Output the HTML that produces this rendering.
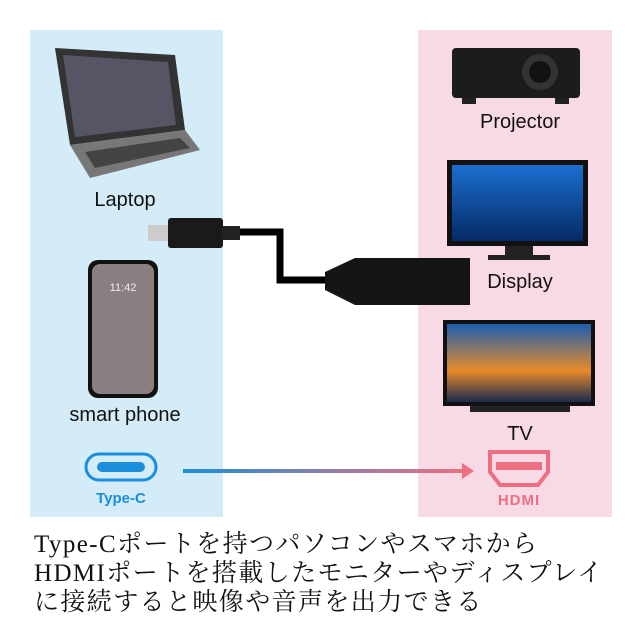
<!DOCTYPE html>
<html><head><meta charset="utf-8"><style>
body{margin:0;width:640px;height:640px;background:#fff;position:relative;overflow:hidden;font-family:"Liberation Sans",sans-serif}
.a{position:absolute}
.lbl{position:absolute;font-size:20px;color:#111;text-align:center}
.jp{position:absolute;left:34px;font-family:"Liberation Serif","Noto Serif CJK SC",serif;font-size:25px;line-height:30px;color:#111;white-space:nowrap;letter-spacing:1.4px}
</style></head><body>
<div class="a" style="left:30px;top:30px;width:193px;height:487px;background:#d4ebf8"></div>
<div class="a" style="left:418px;top:30px;width:194px;height:487px;background:#f8d9e6"></div>
<svg class="a" style="left:0;top:0" width="640" height="640">
<defs><linearGradient id="g" x1="0" x2="1"><stop offset="0" stop-color="#1b8fdc"/><stop offset="0.5" stop-color="#8a7fa8"/><stop offset="1" stop-color="#ec6f82"/></linearGradient>
<linearGradient id="scr" x1="0" y1="0" x2="0" y2="1"><stop offset="0" stop-color="#1a6fd0"/><stop offset="1" stop-color="#062a66"/></linearGradient>
<linearGradient id="tv" x1="0" y1="0" x2="0" y2="1"><stop offset="0" stop-color="#1b5fb0"/><stop offset="0.6" stop-color="#e88a2a"/><stop offset="1" stop-color="#1a2a50"/></linearGradient></defs>
<polygon points="55,48 175,55 185,130 70,145" fill="#333"/>
<polygon points="63,55 168,62 176,125 75,137" fill="#556"/>
<polygon points="70,145 185,130 200,150 90,178" fill="#777"/>
<polygon points="85,152 180,138 190,148 95,168" fill="#444"/>
<rect x="88" y="260" width="70" height="138" rx="10" fill="#111"/>
<rect x="92" y="264" width="62" height="130" rx="8" fill="#8a7f80"/>
<text x="123" y="291" font-size="11" fill="#eee" text-anchor="middle">11:42</text>
<rect x="148" y="225" width="22" height="16" fill="#ccc"/>
<rect x="168" y="218" width="55" height="30" rx="3" fill="#1a1a1a"/>
<rect x="222" y="226" width="18" height="14" fill="#222"/>
<polyline points="240,232 280,232 280,280 330,280" fill="none" stroke="#000" stroke-width="7"/>
<path d="M325,272 L355,258 L470,258 L470,305 L355,305 L325,290 Z" fill="#151515"/>
<rect x="452" y="48" width="128" height="50" rx="4" fill="#1c1c1c"/>
<circle cx="540" cy="72" r="18" fill="#333"/><circle cx="540" cy="72" r="11" fill="#111"/>
<rect x="462" y="98" width="14" height="6" fill="#222"/><rect x="555" y="98" width="14" height="6" fill="#222"/>
<rect x="447" y="160" width="141" height="86" fill="#111"/>
<rect x="452" y="165" width="131" height="76" fill="url(#scr)"/>
<rect x="505" y="246" width="28" height="10" fill="#222"/><rect x="488" y="255" width="62" height="5" fill="#222"/>
<rect x="443" y="320" width="152" height="86" fill="#111"/>
<rect x="447" y="324" width="144" height="78" fill="url(#tv)"/>
<rect x="470" y="406" width="100" height="6" fill="#222"/>
<rect x="86" y="454" width="70" height="26" rx="13" fill="none" stroke="#1b8fdc" stroke-width="3"/>
<rect x="97" y="462" width="48" height="10" rx="5" fill="#1b8fdc"/>
<text x="121" y="503" font-size="15" font-weight="bold" fill="#1b8fdc" text-anchor="middle">Type-C</text>
<rect x="183" y="469" width="282" height="4" fill="url(#g)"/>
<polygon points="462,463 474,471 462,479" fill="#ec6f82"/>
<path d="M490,452 H548 V472 L538,485 H500 L490,472 Z" fill="none" stroke="#ec6f82" stroke-width="4"/>
<rect x="496" y="462" width="46" height="8" fill="#ec6f82"/>
<text x="519" y="505" font-size="15" font-weight="bold" fill="#ec6f82" text-anchor="middle" letter-spacing="1">HDMI</text>
</svg>
<div class="lbl" style="left:60px;top:189px;width:130px">Laptop</div>
<div class="lbl" style="left:40px;top:404px;width:170px">smart phone</div>
<div class="lbl" style="left:455px;top:111px;width:130px">Projector</div>
<div class="lbl" style="left:455px;top:271px;width:130px">Display</div>
<div class="lbl" style="left:455px;top:423px;width:130px">TV</div>
<div class="jp" style="top:530px">Type-Cポートを持つパソコンやスマホから</div>
<div class="jp" style="top:559px">HDMIポートを搭載したモニターやディスプレイ</div>
<div class="jp" style="top:588px">に接続すると映像や音声を出力できる</div>
</body></html>
